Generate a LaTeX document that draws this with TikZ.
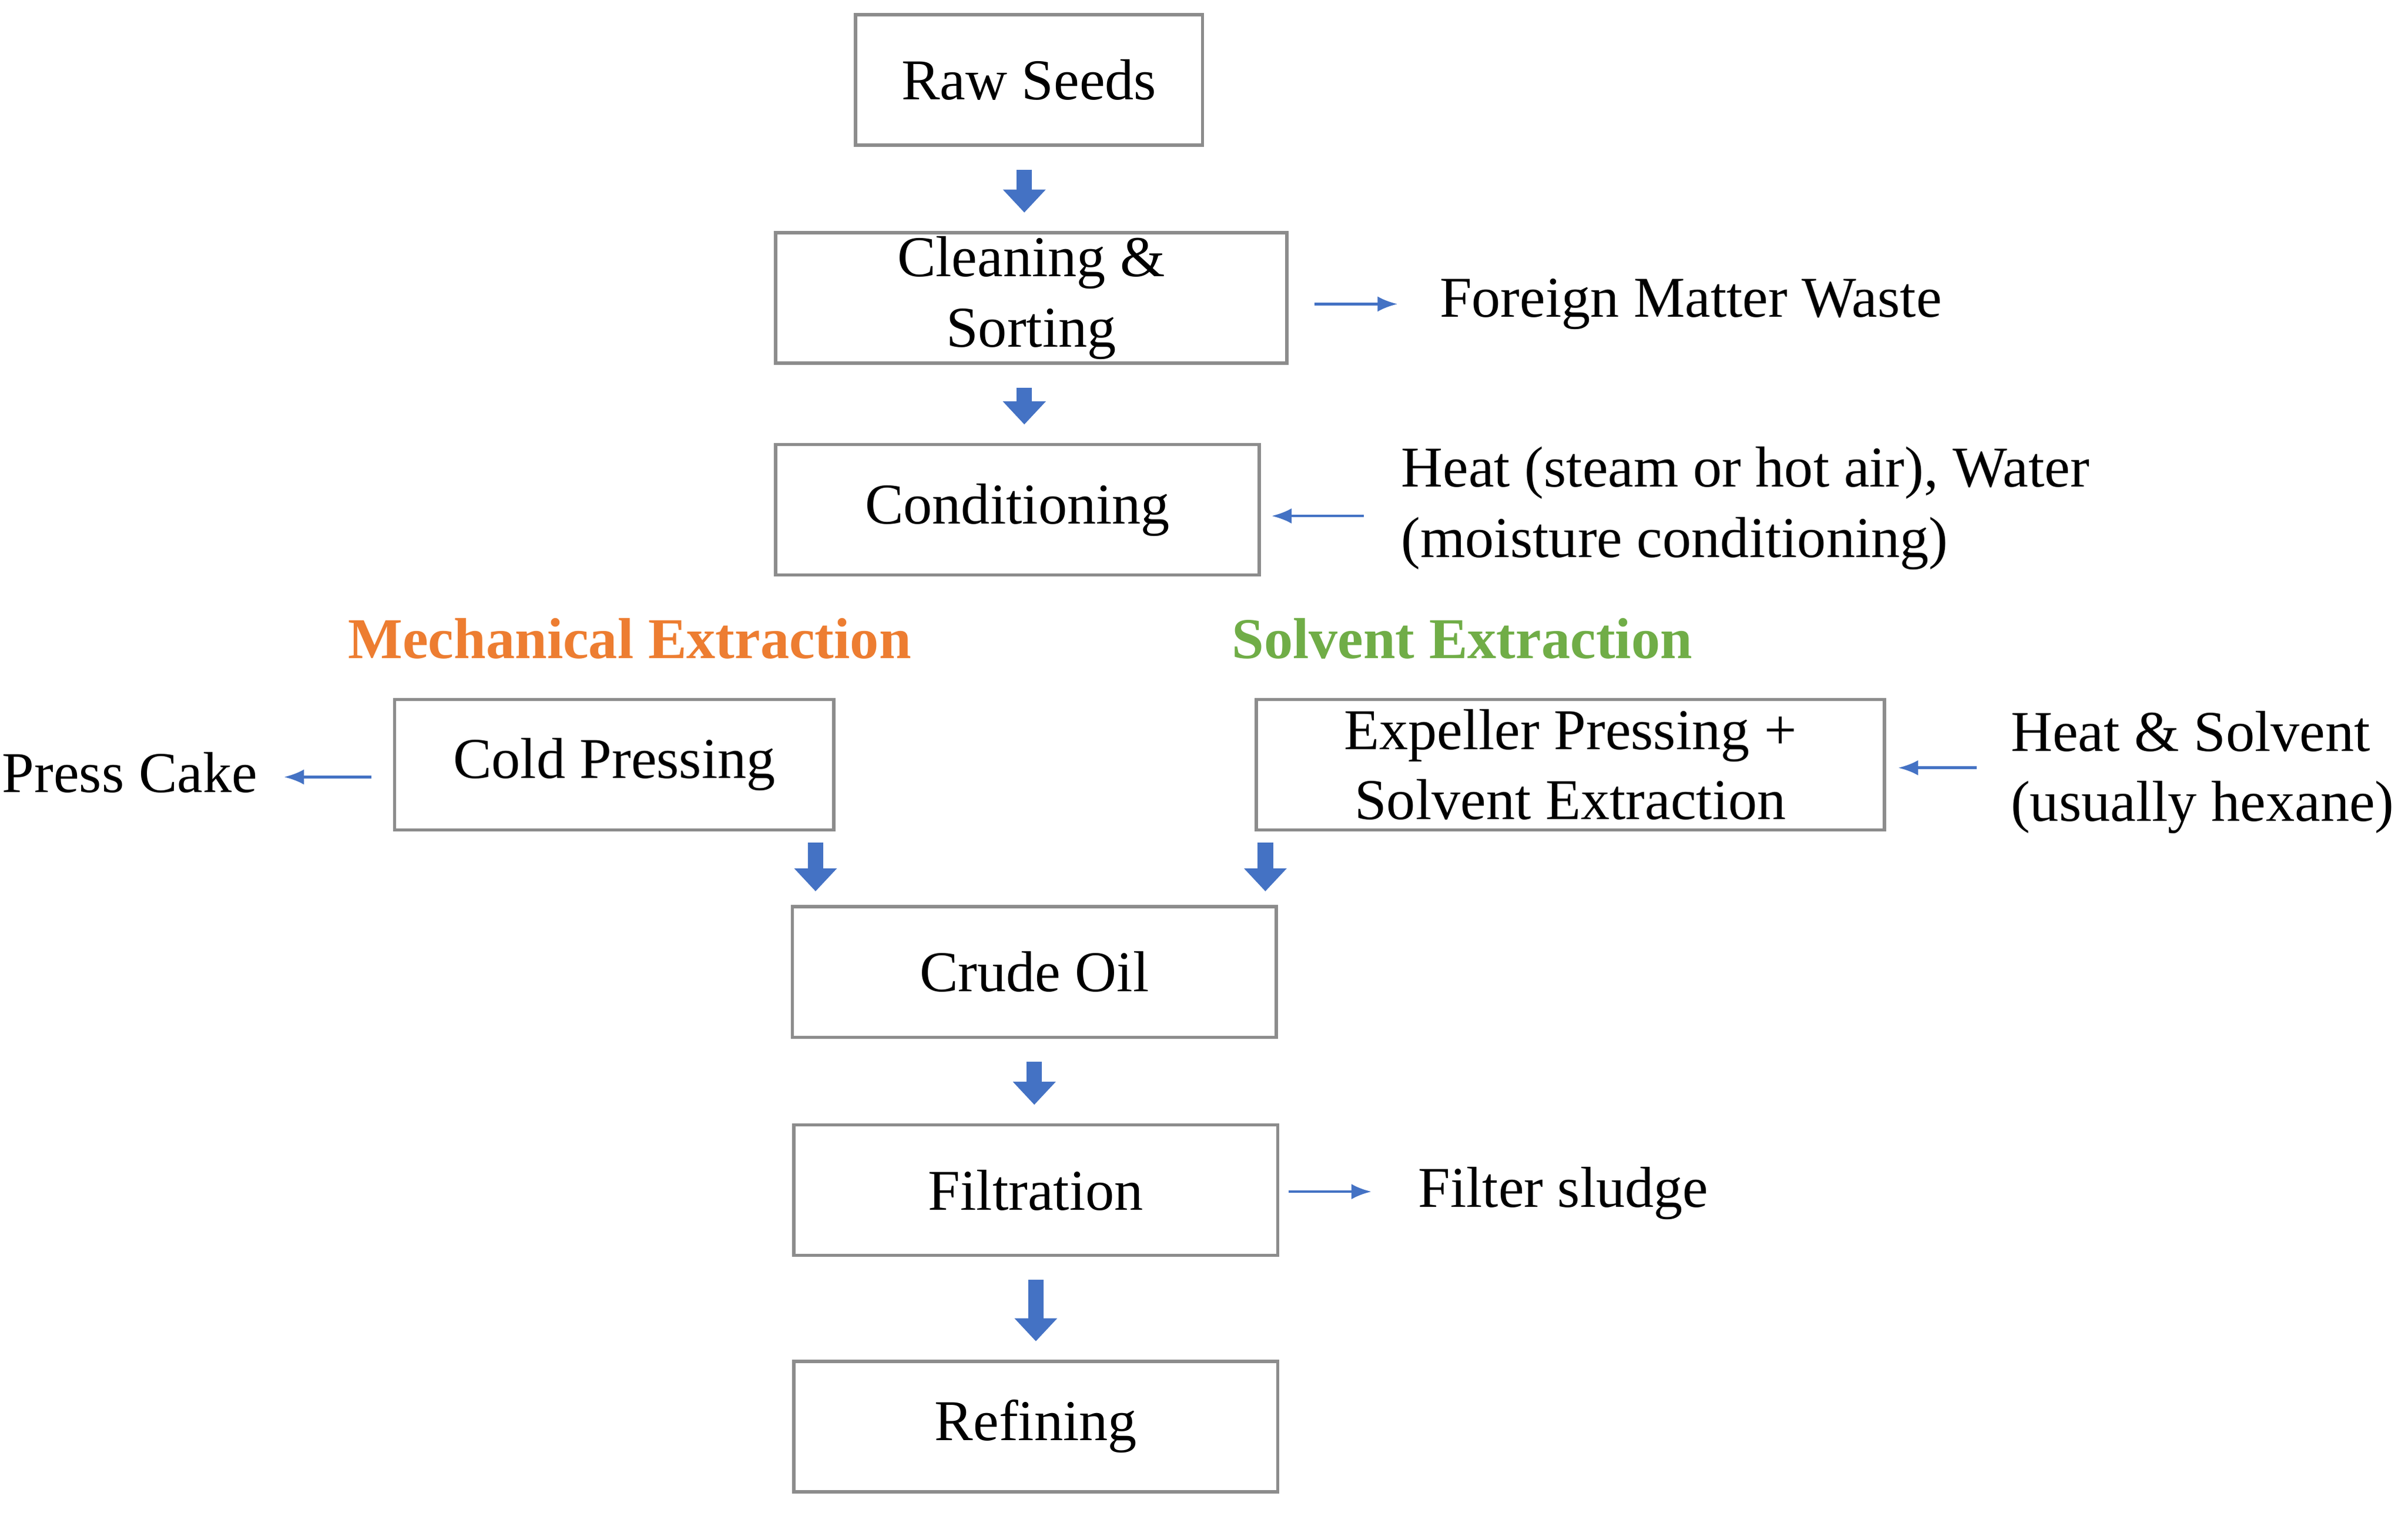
\documentclass[tikz,border=0pt]{standalone}
\usepackage{fontspec}
\setmainfont{Liberation Serif}
\usetikzlibrary{arrows.meta}
\definecolor{flowblue}{RGB}{68,114,196}
\definecolor{mechorange}{RGB}{237,125,49}
\definecolor{solvgreen}{RGB}{112,173,71}
\tikzset{
  stage/.style={draw=black!45, line width=0.6pt, minimum height=0.85cm, inner ysep=0pt,
    align=center, font=\fontsize{10.7}{13}\selectfont},
  side/.style={align=left, font=\fontsize{10.7}{13}\selectfont},
  bigarrow/.style={draw=flowblue, line width=1mm, -{Triangle[width=2.7mm,length=1.5mm]},
    shorten <=1.5mm, shorten >=1.2mm},
  thinarrow/.style={draw=flowblue, line width=0.5pt, -{Latex[length=1.3mm,width=1mm]}},
  head/.style={font=\bfseries\fontsize{10.7}{13}\selectfont}
}
\begin{document}
\begin{tikzpicture}
    \useasboundingbox (0,0) rectangle (15.68,9.85);

    % process steps
    \node[stage, minimum width=2.26cm] (raw) at (6.70,9.33) {Raw Seeds};
    \node[stage, minimum width=3.33cm] (clean) at (6.715,7.91) {Cleaning \&\\ Sorting};
    \node[stage, minimum width=3.15cm] (cond) at (6.625,6.53) {Conditioning};
    \node[stage, minimum width=2.86cm] (cold) at (4.00,4.87) {Cold Pressing};
    \node[stage, minimum width=4.09cm] (expel) at (10.225,4.87) {Expeller Pressing +\\ Solvent Extraction};
    \node[stage, minimum width=3.15cm] (crude) at (6.735,3.52) {Crude Oil};
    \node[stage, minimum width=3.15cm] (filt) at (6.745,2.10) {Filtration};
    \node[stage, minimum width=3.15cm] (refin) at (6.745,0.56) {Refining};

    % route headings
    \node[head, text=mechorange] (mech) at (4.10,5.69) {Mechanical Extraction};
    \node[head, text=solvgreen] (solv) at (9.52,5.69) {Solvent Extraction};

    % inputs and outputs
    \node[side, anchor=west] (waste) at (9.25,7.87) {Foreign Matter Waste};
    \node[side, anchor=west] (heat) at (9.00,6.54) {Heat (steam or hot air), Water\\(moisture conditioning)};
    \node[side, anchor=east] (cake) at (1.80,4.82) {Press Cake};
    \node[side, anchor=west] (solvent) at (12.97,4.82) {Heat \& Solvent\\(usually hexane)};
    \node[side, anchor=west] (sludge) at (9.11,2.08) {Filter sludge};

    % main flow
    \draw[bigarrow] ([xshift=-0.3mm]raw.south) -- ([xshift=-0.3mm]raw.south |- clean.north);
    \draw[bigarrow] ([xshift=-0.45mm]clean.south) -- ([xshift=-0.45mm]clean.south |- cond.north);
    \draw[bigarrow, shorten <=0.7mm, shorten >=0.9mm] ([xshift=-1.3mm]cold.south east) -- ([xshift=-1.3mm]cold.south east |- crude.north);
    \draw[bigarrow, shorten <=0.7mm, shorten >=0.9mm] ([xshift=0.7mm]expel.south west) -- ([xshift=0.7mm]expel.south west |- crude.north);
    \draw[bigarrow] (crude.south) -- (crude.south |- filt.north);
    \draw[bigarrow] (filt.south) -- (filt.south |- refin.north);

    % side streams
    \draw[thinarrow, shorten <=1.7mm, shorten >=1.5mm] (clean.east |- waste) -- (waste.west);
    \draw[thinarrow, shorten <=1.2mm, shorten >=0.7mm] ([yshift=-0.5mm]heat.west) -- ([yshift=-0.5mm]cond.east |- heat.west);
    \draw[thinarrow, shorten <=1.4mm, shorten >=0.5mm] ([yshift=-0.3mm]cold.west |- cake.east) -- ([yshift=-0.3mm]cake.east);
    \draw[thinarrow, shorten <=1.0mm, shorten >=0.8mm] ([yshift=0.3mm]solvent.west) -- ([yshift=0.3mm]expel.east |- solvent.west);
    \draw[thinarrow, shorten <=0.6mm, shorten >=1.8mm] ([yshift=0.1mm]filt.east |- sludge) -- ([yshift=0.1mm]sludge.west);
\end{tikzpicture}
\end{document}
